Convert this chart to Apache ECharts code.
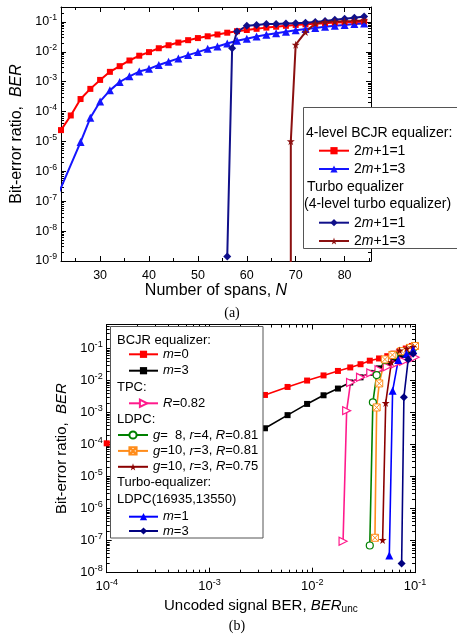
<!DOCTYPE html>
<html>
<head>
<meta charset="utf-8">
<script src="https://cdn.jsdelivr.net/npm/echarts@6/dist/echarts.min.js"></script>
<style>
  html, body { margin: 0; padding: 0; background: #fff; }
  #chart { width: 457px; height: 636px; }
</style>
</head>
<body>
<div id="chart"></div>
<script>
var FONT = '"Liberation Sans", Arial, sans-serif';
var SERIF = '"Liberation Serif", "Times New Roman", serif';

// ---------- (a) BER vs number of spans (y values are log10 BER) ----------
var spansBcjr1 = [22,24,26,28,30,32,34,36,38,40,42,44,46,48,50,52,54,56,58,60,62,64,66,68,70,72,74,76,78,80,82,84];
var logBerBcjr1 = [-4.62,-4.13,-3.58,-3.24,-2.94,-2.67,-2.48,-2.29,-2.13,-2.01,-1.88,-1.78,-1.69,-1.61,-1.54,-1.48,
                   -1.42,-1.36,-1.31,-1.27,-1.23,-1.19,-1.16,-1.13,-1.10,-1.08,-1.06,-1.04,-1.02,-1.01,-1.00,-0.99];
var spansBcjr3 = [21,26,28,30,32,34,36,38,40,42,44,46,48,50,52,54,56,58,60,62,64,66,68,70,72,74,76,78,80,82,84];
var logBerBcjr3 = [-6.93,-5.02,-4.21,-3.66,-3.29,-3.01,-2.82,-2.66,-2.57,-2.44,-2.33,-2.22,-2.11,-2.01,-1.90,-1.82,
                   -1.72,-1.63,-1.56,-1.49,-1.43,-1.38,-1.33,-1.28,-1.24,-1.20,-1.16,-1.13,-1.10,-1.07,-1.05];
var spansTurbo1 = [56,57,58,60,62,64,66,68,70,72,74,76,78,80,82,84];
var logBerTurbo1 = [-8.85,-1.88,-1.32,-1.13,-1.10,-1.07,-1.07,-1.05,-1.04,-1.03,-1.00,-0.97,-0.93,-0.89,-0.86,-0.82];
var spansTurbo3 = [69,69,70,72,74,76,78,80,82,84];
var logBerTurbo3 = [-10,-4.99,-1.76,-1.34,-1.05,-1.00,-0.99,-0.98,-0.97,-0.95];
var spanTicks = [30,40,50,60,70,80];
var spanMinorTicks = [25,35,45,55,65,75,85];
var decadesA = [-9,-8,-7,-6,-5,-4,-3,-2,-1];

// ---------- (b) BER vs uncoded BER (both log10) ----------
var uncBcjr0 = [-4,-2.46,-2.24,-2.05,-1.89,-1.75,-1.63,-1.53,-1.44,-1.35,-1.27,-1.21,-1.15,-1.09,-1.03];
var berBcjr0 = [-3.96,-2.45,-2.20,-2.00,-1.84,-1.70,-1.59,-1.49,-1.38,-1.31,-1.24,-1.16,-1.08,-1.00,-0.92];
var uncBcjr3 = [-3.0,-2.46,-2.24,-2.05,-1.89,-1.75,-1.63,-1.53,-1.44,-1.35,-1.27,-1.21,-1.15,-1.09,-1.03];
var berBcjr3 = [-4.5,-3.49,-3.08,-2.73,-2.46,-2.25,-2.06,-1.90,-1.76,-1.62,-1.50,-1.40,-1.30,-1.20,-1.10];
var uncTpc = [-1.70,-1.665,-1.627,-1.53,-1.43,-1.35,-1.27,-1.19,-1.11,-1.04,-1.0];
var berTpc = [-7.02,-2.94,-2.06,-1.90,-1.76,-1.66,-1.57,-1.48,-1.40,-1.32,-1.27];
var uncLdpc1 = [-1.44,-1.41,-1.373,-1.293,-1.2,-1.1,-1.02];
var berLdpc1 = [-7.15,-2.68,-1.83,-1.36,-1.22,-1.10,-1.00];
var uncLdpc2 = [-1.39,-1.373,-1.348,-1.293,-1.22,-1.13,-1.05,-1.0];
var berLdpc2 = [-6.91,-2.84,-2.09,-1.34,-1.20,-1.08,-0.98,-0.92];
var uncLdpc3 = [-1.315,-1.285,-1.23,-1.15,-1.08,-1.02];
var berLdpc3 = [-6.98,-2.70,-1.43,-1.06,-1.00,-0.95];
var uncTurbo1 = [-1.25,-1.218,-1.163,-1.082,-1.018];
var berTurbo1 = [-7.46,-2.32,-1.36,-1.16,-1.05];
var uncTurbo3 = [-1.13,-1.108,-1.066,-1.018];
var berTurbo3 = [-7.71,-2.52,-1.34,-1.16];
var decadesBx = [-4,-3,-2,-1];
var decadesBy = [-8,-7,-6,-5,-4,-3,-2,-1];

var legendNames = {
  a_bcjr1: '2{i|m}+1=1', a_bcjr3: '2{i|m}+1=3', a_turbo1: '2{i|m}+1=1', a_turbo3: '2{i|m}+1=3',
  b_bcjr0: '{i|m}=0', b_bcjr3: '{i|m}=3', b_tpc: '{i|R}=0.82',
  b_ldpc1: '{i|g}=  8, {i|r}=4, {i|R}=0.81', b_ldpc2: '{i|g}=10, {i|r}=3, {i|R}=0.81',
  b_ldpc3: '{i|g}=10, {i|r}=3, {i|R}=0.75', b_turbo1: '{i|m}=1', b_turbo3: '{i|m}=3'
};

var STAR = 'path://M50,0 L61,35 L98,35 L68,57 L79,91 L50,70 L21,91 L32,57 L2,35 L39,35 Z';
var XBOX = 'path://M0,0 L10,0 L10,10 L0,10 Z M0,0 L10,10 M10,0 L0,10';

function zip(xs, ys) { return xs.map(function (x, i) { return [x, ys[i]]; }); }

function minorLog(lo, hi) {
  var t = [];
  for (var e = Math.floor(lo); e < Math.ceil(hi); e++) {
    for (var k = 2; k < 10; k++) {
      var v = e + Math.log10(k);
      if (v > lo && v < hi) t.push(v);
    }
  }
  return t;
}

function supFmt(v) { return '10{s|' + v + '}'; }

// four axes per direction: main + minor ticks, opposite side + minor ticks
function addAxes(list, dim, grid, range, majors, minors, labelOpt, nameOpt) {
  var sides = dim === 'x' ? ['bottom', 'top'] : ['left', 'right'];
  var main = list.length;
  sides.forEach(function (side, s) {
    [majors, minors].forEach(function (ticks, m) {
      var ax = {
        type: 'value', gridIndex: grid, min: range[0], max: range[1], position: side,
        splitLine: { show: false },
        axisLine: { show: m === 0, onZero: false, lineStyle: { color: '#000', width: 1 } },
        axisTick: { show: true, customValues: ticks, inside: true, length: m === 0 ? 5 : 3,
                    lineStyle: { color: '#000', width: 1 } },
        axisLabel: { show: false }
      };
      if (s === 0 && m === 0) {
        ax.axisLabel = labelOpt;
        for (var key in nameOpt) ax[key] = nameOpt[key];
      }
      list.push(ax);
    });
  });
  return main;
}

function supLabel(values, size, margin) {
  return {
    show: true, customValues: values, formatter: supFmt, margin: margin,
    fontSize: size, color: '#000', fontFamily: FONT,
    rich: { s: { fontSize: size * 0.7, fontFamily: FONT, color: '#000', padding: [0, 0, 8, 0] } }
  };
}

function axisName(text, gap, size, extraRich) {
  var rich = { i: { fontStyle: 'italic', fontSize: size, fontFamily: FONT, color: '#000' } };
  for (var k in extraRich) rich[k] = extraRich[k];
  return {
    name: text, nameLocation: 'middle', nameGap: gap,
    nameTextStyle: { fontSize: size, fontFamily: FONT, color: '#000', rich: rich }
  };
}

var xAxes = [], yAxes = [];
var axA = {
  x: addAxes(xAxes, 'x', 0, [22, 85.4], spanTicks, spanMinorTicks,
    { show: true, customValues: spanTicks, margin: 8, fontSize: 12.5, color: '#000', fontFamily: FONT },
    axisName('Number of spans, {i|N}', 21, 16)),
  y: addAxes(yAxes, 'y', 0, [-9, -0.5], decadesA, minorLog(-9, -0.5),
    supLabel(decadesA, 12.5, 4),
    axisName('Bit-error ratio,  {i|BER}', 36, 16))
};
var axB = {
  x: addAxes(xAxes, 'x', 1, [-4, -1], decadesBx, minorLog(-4, -1),
    supLabel(decadesBx, 13, 5),
    axisName('Uncoded signal BER, {i|BER}{u|unc}', 24, 15,
      { u: { fontSize: 10, fontFamily: FONT, color: '#000', padding: [8, 0, 0, 0] } })),
  y: addAxes(yAxes, 'y', 1, [-8, -0.25], decadesBy, minorLog(-8, -0.25),
    supLabel(decadesBy, 13, 4),
    axisName('Bit-error ratio,  {i|BER}', 37, 15))
};

function lineSeries(name, ax, xs, ys, color, symbol, size, extra) {
  var s = {
    name: name, type: 'line', xAxisIndex: ax.x, yAxisIndex: ax.y,
    data: zip(xs, ys), color: color, symbol: symbol, symbolSize: size,
    lineStyle: { width: 2, color: color }, itemStyle: { color: color },
    clip: true, animation: false
  };
  for (var k in extra) s[k] = extra[k];
  return s;
}

function openItem(color) { return { color: '#fff', borderColor: color, borderWidth: 1.2 }; }

var series = [
  lineSeries('a_bcjr1', axA, spansBcjr1, logBerBcjr1, '#ff0000', 'rect', 6),
  lineSeries('a_bcjr3', axA, spansBcjr3, logBerBcjr3, '#1515ff', 'triangle', 8),
  lineSeries('a_turbo1', axA, spansTurbo1, logBerTurbo1, '#10108a', 'diamond', 8),
  lineSeries('a_turbo3', axA, spansTurbo3, logBerTurbo3, '#8b1010', STAR, 8),
  lineSeries('b_bcjr0', axB, uncBcjr0, berBcjr0, '#ff0000', 'rect', 6, { lineStyle: { width: 1.6, color: '#ff0000' } }),
  lineSeries('b_bcjr3', axB, uncBcjr3, berBcjr3, '#000000', 'rect', 6, { lineStyle: { width: 1.6, color: '#000' } }),
  lineSeries('b_tpc', axB, uncTpc, berTpc, '#ff1a8c', 'triangle', 8,
    { symbolRotate: -90, itemStyle: openItem('#ff1a8c'), lineStyle: { width: 1.6, color: '#ff1a8c' } }),
  lineSeries('b_ldpc1', axB, uncLdpc1, berLdpc1, '#008000', 'circle', 7,
    { itemStyle: openItem('#008000'), lineStyle: { width: 1.6, color: '#008000' } }),
  lineSeries('b_ldpc2', axB, uncLdpc2, berLdpc2, '#ff8c1a', XBOX, 7,
    { itemStyle: { color: '#fff', borderColor: '#ff8c1a', borderWidth: 1 }, lineStyle: { width: 1.6, color: '#ff8c1a' } }),
  lineSeries('b_ldpc3', axB, uncLdpc3, berLdpc3, '#8b0000', STAR, 8, { lineStyle: { width: 1.6, color: '#8b0000' } }),
  lineSeries('b_turbo1', axB, uncTurbo1, berTurbo1, '#0000ff', 'triangle', 8, { lineStyle: { width: 1.6, color: '#0000ff' } }),
  lineSeries('b_turbo3', axB, uncTurbo3, berTurbo3, '#000080', 'diamond', 8, { lineStyle: { width: 1.6, color: '#000080' } })
];

function legendBlock(names, left, top, size, gap, width) {
  return {
    data: names, left: left, top: top, orient: 'vertical', padding: 0,
    itemGap: gap, itemWidth: width, itemHeight: 9, selectedMode: false, z: 20,
    formatter: function (n) { return legendNames[n]; },
    textStyle: {
      fontSize: size, lineHeight: size, fontFamily: FONT, color: '#000',
      rich: { i: { fontStyle: 'italic', fontSize: size, lineHeight: size, fontFamily: FONT, color: '#000' } }
    }
  };
}

var legends = [
  legendBlock(['a_bcjr1', 'a_bcjr3'], 318, 143.7, 14, 4.3, 30),
  legendBlock(['a_turbo1', 'a_turbo3'], 318, 215.7, 14, 4.3, 30),
  legendBlock(['b_bcjr0', 'b_bcjr3'], 128, 347.8, 13, 3.4, 29),
  legendBlock(['b_tpc'], 128, 396.8, 13, 3, 29),
  legendBlock(['b_ldpc1', 'b_ldpc2', 'b_ldpc3'], 117, 428.5, 13, 2.9, 30),
  legendBlock(['b_turbo1', 'b_turbo3'], 128, 510.2, 13, 1.3, 29)
];

function label(text, x, y, size, font) {
  return {
    type: 'text', z: 20, x: x, y: y,
    style: { text: text, font: size + 'px ' + (font || FONT), fill: '#000', verticalAlign: 'middle' }
  };
}

var graphics = [
  { type: 'rect', z: 10, shape: { x: 303.5, y: 107.5, width: 160, height: 141 },
    style: { fill: '#fff', stroke: '#555', lineWidth: 1 } },
  label('4-level BCJR equalizer:', 306, 132.7, 14),
  label('Turbo equalizer', 307, 186.7, 14),
  label('(4-level turbo equalizer)', 304, 204, 14),
  { type: 'rect', z: 10, shape: { x: 110.5, y: 326.5, width: 152.5, height: 211.5 },
    style: { fill: '#fff', stroke: '#555', lineWidth: 1 } },
  label('BCJR equalizer:', 117, 340, 13),
  label('TPC:', 117, 387.7, 13),
  label('LDPC:', 117, 419.3, 13),
  label('Turbo-equalizer:', 117, 482.7, 13),
  label('LDPC(16935,13550)', 117, 499.3, 13),
  { type: 'text', z: 20, x: 232, y: 313,
    style: { text: '(a)', font: '14px ' + SERIF, fill: '#000', align: 'center', verticalAlign: 'middle' } },
  { type: 'text', z: 20, x: 237, y: 626.7,
    style: { text: '(b)', font: '14px ' + SERIF, fill: '#000', align: 'center', verticalAlign: 'middle' } }
];

var chart = echarts.init(document.getElementById('chart'));
chart.setOption({
  animation: false,
  backgroundColor: '#fff',
  grid: [
    { left: 61, top: 7, width: 310, height: 254 },
    { left: 106.7, top: 324.5, width: 308.3, height: 248.2 }
  ],
  xAxis: xAxes,
  yAxis: yAxes,
  legend: legends,
  graphic: graphics,
  series: series
});
</script>
</body>
</html>
